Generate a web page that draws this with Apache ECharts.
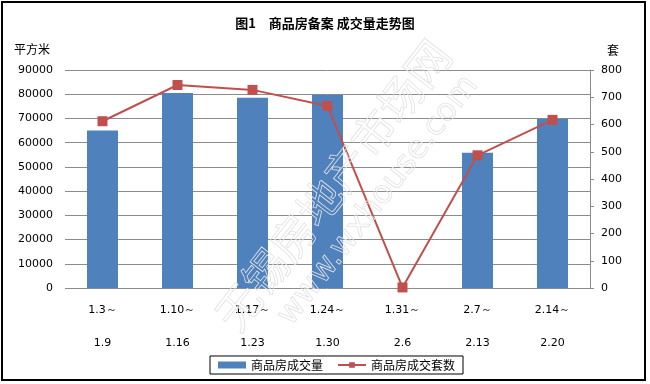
<!DOCTYPE html>
<html><head><meta charset="utf-8">
<script src="https://cdn.jsdelivr.net/npm/echarts@6/dist/echarts.min.js"></script>
<style>html,body{margin:0;padding:0;background:#fff}#c{width:650px;height:384px}</style>
</head><body><div id="c"></div>
<script>
const categories = ['1.3～\n1.9','1.10～\n1.16','1.17～\n1.23','1.24～\n1.30','1.31～\n2.6','2.7～\n2.13','2.14～\n2.20'];
const areaValues = [65000, 80500, 78500, 79800, 0, 55800, 69900];
const unitValues = [612, 745, 727, 668, 2, 487, 617];
const leftTicks = [0, 90000, 10000];
const rightTicks = [0, 800, 100];

const chart = echarts.init(document.getElementById('c'), null, {renderer:'canvas'});
const font = '"Noto Sans CJK SC", "DejaVu Sans", sans-serif';
chart.setOption({
  animation:false,
  backgroundColor:'#fff',
  title:{text:'图1　商品房备案 成交量走势图', left:'center', top:12,
    textStyle:{fontSize:13, fontWeight:'bold', color:'#000', fontFamily:font}},
  grid:{left:65, right:60, top:70, bottom:96},
  legend:{bottom:10, left:210, itemGap:14, padding:[3,8,3,8], borderColor:'#000', borderWidth:1,
    itemWidth:28, itemHeight:7, textStyle:{fontSize:12, color:'#000', fontFamily:font},
    data:[{name:'商品房成交量', icon:'rect'}, {name:'商品房成交套数'}]},
  graphic:[
    {type:'rect', shape:{x:2, y:2, width:643, height:378}, style:{fill:'none', stroke:'#000', lineWidth:2}, z:-1},
    {type:'text', x:333, y:185, rotation:Math.PI*0.29,
      style:{text:'无锡房地产市场网', font:'44px "Noto Sans CJK SC"', fill:'rgba(0,0,0,0)', stroke:'#e2e2e2', lineWidth:0.8, align:'center', verticalAlign:'middle'}, z:100},
    {type:'text', x:345, y:175, rotation:Math.PI*0.29,
      style:{text:'www.wxhouse.com', font:'32px "DejaVu Sans"', fill:'rgba(0,0,0,0)', stroke:'#e2e2e2', lineWidth:0.8, align:'center', verticalAlign:'middle', x:0, y:42}, z:100}
  ],
  xAxis:{type:'category', data:categories,
    axisLine:{show:false}, axisTick:{show:false},
    axisLabel:{fontSize:11, color:'#000', fontFamily:'"DejaVu Sans", sans-serif', lineHeight:33, margin:6}},
  yAxis:[
    {type:'value', min:leftTicks[0], max:leftTicks[1], interval:leftTicks[2], name:'平方米',
      nameLocation:'end', nameGap:15, nameTextStyle:{fontSize:12, color:'#000', fontFamily:font, align:'right', padding:[0,15,0,0]},
      axisLine:{show:false}, axisTick:{show:false},
      axisLabel:{fontSize:11, color:'#000', fontFamily:'"DejaVu Sans", sans-serif', margin:12, formatter:function(v){return String(v);}},
      splitLine:{lineStyle:{color:'#8c8c8c', width:1}}},
    {type:'value', min:rightTicks[0], max:rightTicks[1], interval:rightTicks[2], name:'套',
      nameLocation:'end', nameGap:14, nameTextStyle:{fontSize:12, color:'#000', fontFamily:font, align:'left', padding:[0,0,0,17]},
      axisLine:{show:true, lineStyle:{color:'#8c8c8c'}}, axisTick:{show:true, length:4, lineStyle:{color:'#8c8c8c'}},
      axisLabel:{fontSize:11, color:'#000', fontFamily:'"DejaVu Sans", sans-serif', margin:11},
      splitLine:{show:false}}
  ],
  series:[
    {name:'商品房成交量', type:'bar', data:areaValues, barWidth:31, itemStyle:{color:'#4f81bd'}, yAxisIndex:0},
    {name:'商品房成交套数', type:'line', data:unitValues, yAxisIndex:1, symbol:'rect', symbolSize:10,
      lineStyle:{color:'#c0504d', width:2}, itemStyle:{color:'#c0504d'}}
  ]
});
</script></body></html>
